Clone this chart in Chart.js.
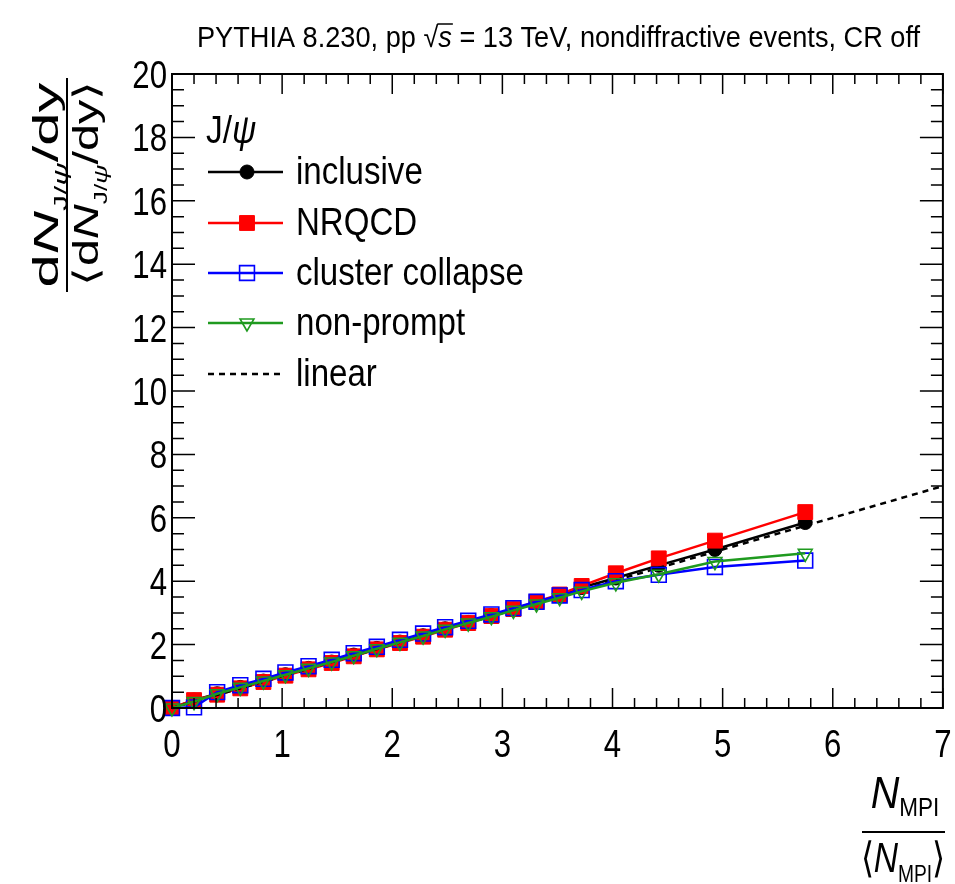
<!DOCTYPE html>
<html>
<head>
<meta charset="utf-8">
<script src="https://cdn.jsdelivr.net/npm/chart.js@4.4.0/dist/chart.umd.min.js"></script>
<style>
  html, body { margin: 0; padding: 0; background: #fff; }
  #wrap { width: 955px; height: 884px; position: relative; }
</style>
</head>
<body>
<div id="wrap"><canvas id="chart"></canvas></div>
<script>
// --- DATA ---
const xValues = [0, 0.2, 0.41, 0.62, 0.83, 1.03, 1.24, 1.45, 1.65, 1.86, 2.07, 2.28, 2.48, 2.69, 2.9, 3.1, 3.31, 3.52, 3.72, 4.03, 4.42, 4.93, 5.75];
const inclusive   = [0, 0.25, 0.45, 0.65, 0.85, 1.05, 1.25, 1.45, 1.67, 1.88, 2.08, 2.28, 2.5, 2.7, 2.92, 3.12, 3.33, 3.55, 3.8, 4.1, 4.5, 5.0, 5.85];
const nrqcd       = [0, 0.25, 0.42, 0.62, 0.82, 1.02, 1.22, 1.42, 1.63, 1.85, 2.05, 2.25, 2.47, 2.68, 2.9, 3.12, 3.35, 3.58, 3.85, 4.25, 4.72, 5.28, 6.18];
const cluster     = [0, 0.02, 0.5, 0.72, 0.92, 1.12, 1.32, 1.52, 1.73, 1.93, 2.15, 2.35, 2.55, 2.75, 2.95, 3.15, 3.35, 3.55, 3.72, 4.0, 4.2, 4.45, 4.65];
const nonPrompt   = [0, 0.2, 0.45, 0.65, 0.85, 1.05, 1.25, 1.45, 1.65, 1.87, 2.07, 2.27, 2.48, 2.68, 2.88, 3.08, 3.28, 3.48, 3.68, 3.95, 4.22, 4.62, 4.88];
const linearX = [0, 7];
const linearY = [0, 7];
const seriesNames = ['inclusive', 'NRQCD', 'cluster collapse', 'non-prompt', 'linear'];

const toPoints = (xs, ys) => xs.map((x, i) => ({ x: x, y: ys[i] }));

// --- TEXT HELPERS ---
// segments: [{t, size, italic, dy}] drawn left to right, squeezed by sx
const segFont = (s) => `${s.italic ? 'italic ' : ''}${s.size}px "Liberation Sans", Arial, sans-serif`;
const measureSegs = (ctx, segs) => segs.reduce((w, s) => { ctx.font = segFont(s); return w + ctx.measureText(s.t).width; }, 0);
const drawSegs = (ctx, segs, x, y, sx, align) => {
    const w = measureSegs(ctx, segs);
    ctx.save();
    ctx.translate(x, y);
    ctx.scale(sx, 1);
    let cx = align === 'center' ? -w / 2 : (align === 'right' ? -w : 0);
    ctx.textAlign = 'left';
    ctx.textBaseline = 'alphabetic';
    const spans = [];
    segs.forEach(s => {
        ctx.font = segFont(s);
        const sw = ctx.measureText(s.t).width;
        ctx.fillText(s.t, cx, s.dy || 0);
        spans.push([cx, cx + sw]);
        cx += sw;
    });
    ctx.restore();
    return spans.map(p => [x + p[0] * sx, x + p[1] * sx]);
};

// --- ROOT-LIKE DECORATIONS ---
const rootDecor = {
    id: 'rootDecor',
    afterDraw(chart) {
        const ctx = chart.ctx;
        const a = chart.chartArea;
        const xs = chart.scales.x, ys = chart.scales.y;
        ctx.save();
        ctx.fillStyle = '#000';
        ctx.strokeStyle = '#000';

        // frame
        ctx.lineWidth = 2;
        ctx.strokeRect(a.left, a.top, a.right - a.left, a.bottom - a.top);

        // inward ticks
        ctx.lineWidth = 1.5;
        ctx.beginPath();
        for (let i = 0; i <= 35; i++) {
            const px = xs.getPixelForValue(i * 0.2);
            const len = i % 5 === 0 ? 20 : 10;
            ctx.moveTo(px, a.bottom); ctx.lineTo(px, a.bottom - len);
            ctx.moveTo(px, a.top); ctx.lineTo(px, a.top + len);
        }
        for (let i = 0; i <= 40; i++) {
            const py = ys.getPixelForValue(i * 0.5);
            const len = i % 4 === 0 ? 23 : 12;
            ctx.moveTo(a.left, py); ctx.lineTo(a.left + len, py);
            ctx.moveTo(a.right, py); ctx.lineTo(a.right - len, py);
        }
        ctx.stroke();

        // tick labels
        xs.ticks.forEach(t => {
            drawSegs(ctx, [{ t: String(t.value), size: 39 }], xs.getPixelForValue(t.value), 757, 0.8, 'center');
        });
        ys.ticks.forEach(t => {
            drawSegs(ctx, [{ t: String(t.value), size: 39 }], 167, ys.getPixelForValue(t.value) + 14, 0.8, 'right');
        });

        // title
        const titleSegs = [
            { t: 'PYTHIA 8.230, pp ', size: 29 },
            { t: '\u221A', size: 29 },
            { t: 's', size: 29, italic: true },
            { t: ' = 13 TeV, nondiffractive events, CR off', size: 29 }
        ];
        const tw = measureSegs(ctx, titleSegs);
        const tsx = 723 / tw;
        const tsp = drawSegs(ctx, titleSegs, 197, 47, tsx, 'left');
        ctx.lineWidth = 1.5;
        ctx.beginPath();
        ctx.moveTo(tsp[1][1] - 1, 24); ctx.lineTo(tsp[2][1] + 1, 24);
        ctx.stroke();

        // y axis title (rotated fraction)
        ctx.save();
        ctx.translate(67, 185);
        ctx.rotate(-Math.PI / 2);
        const numSegs = [
            { t: 'd', size: 35 }, { t: 'N', size: 35, italic: true },
            { t: 'J/', size: 19, dy: 9 }, { t: '\u03C8', size: 19, italic: true, dy: 9 },
            { t: '/dy', size: 35 }
        ];
        const denSegs = [{ t: '\u27E8', size: 35 }].concat(numSegs, [{ t: '\u27E9', size: 35 }]);
        drawSegs(ctx, numSegs, 0, -9, 205 / measureSegs(ctx, numSegs), 'center');
        drawSegs(ctx, denSegs, 2, 31, 205 / measureSegs(ctx, denSegs), 'center');
        ctx.lineWidth = 2;
        ctx.beginPath();
        ctx.moveTo(-107, 0); ctx.lineTo(107, 0);
        ctx.stroke();
        ctx.restore();

        // x axis title (fraction, bottom right)
        const xNum = [{ t: 'N', size: 44, italic: true }, { t: 'MPI', size: 25, dy: 8 }];
        const xDen = [{ t: '\u27E8', size: 42 }, { t: 'N', size: 42, italic: true }, { t: 'MPI', size: 24, dy: 10 }, { t: '\u27E9', size: 42 }];
        drawSegs(ctx, xNum, 905, 808, 0.9, 'center');
        drawSegs(ctx, xDen, 903, 872, 0.8, 'center');
        ctx.lineWidth = 2;
        ctx.beginPath();
        ctx.moveTo(862, 832); ctx.lineTo(945, 832);
        ctx.stroke();

        // legend
        drawSegs(ctx, [{ t: 'J/', size: 38 }, { t: '\u03C8', size: 38, italic: true }], 206, 143, 0.88, 'left');
        const rows = [172, 223, 273, 323, 374];
        const legendOrder = [0, 1, 2, 3, 4];
        legendOrder.forEach((di, r) => {
            const ds = chart.data.datasets[di];
            const y = rows[r];
            ctx.save();
            ctx.strokeStyle = ds.borderColor;
            ctx.lineWidth = ds.borderWidth;
            ctx.setLineDash(ds.borderDash || []);
            ctx.beginPath();
            ctx.moveTo(208, y); ctx.lineTo(283, y);
            ctx.stroke();
            ctx.setLineDash([]);
            if (ds.pointRadius > 0) {
                ctx.fillStyle = ds.pointBackgroundColor;
                ctx.strokeStyle = ds.pointBorderColor;
                ctx.lineWidth = ds.pointBorderWidth;
                Chart.helpers.drawPoint(ctx, {
                    pointStyle: ds.pointStyle, rotation: ds.pointRotation || 0,
                    radius: ds.pointRadius, borderWidth: ds.pointBorderWidth
                }, 247, y);
            }
            ctx.restore();
            ctx.fillStyle = '#000';
            drawSegs(ctx, [{ t: seriesNames[di], size: 38 }], 296, y + 12, 0.87, 'left');
        });

        ctx.restore();
    }
};

const mkSeries = (label, ys, color, style, radius, filled, rotation, order) => ({
    label: label,
    data: toPoints(xValues, ys),
    borderColor: color,
    borderWidth: 2.5,
    pointStyle: style,
    pointRadius: radius,
    pointRotation: rotation,
    pointBackgroundColor: filled ? color : 'rgba(0,0,0,0)',
    pointBorderColor: color,
    pointBorderWidth: filled ? 1 : 1.6,
    tension: 0,
    fill: false,
    clip: false,
    order: order
});

new Chart(document.getElementById('chart'), {
    type: 'line',
    data: {
        datasets: [
            mkSeries(seriesNames[0], inclusive, '#000000', 'circle', 7, true, 0, 4),
            mkSeries(seriesNames[1], nrqcd, '#ff0000', 'rect', 10.5, true, 0, 3),
            mkSeries(seriesNames[2], cluster, '#0000ff', 'rect', 10.5, false, 0, 1),
            mkSeries(seriesNames[3], nonPrompt, '#1f9a1f', 'triangle', 8, false, 180, 0),
            {
                label: seriesNames[4],
                data: toPoints(linearX, linearY),
                borderColor: '#000000',
                borderWidth: 2.5,
                borderDash: [6, 5],
                pointRadius: 0,
                fill: false,
                clip: false,
                order: 2
            }
        ]
    },
    options: {
        responsive: true,
        maintainAspectRatio: false,
        animation: false,
        layout: { padding: { top: 74, right: 10, bottom: 0, left: 0 } },
        scales: {
            x: {
                type: 'linear', min: 0, max: 7,
                ticks: { stepSize: 1, display: false },
                grid: { display: false },
                border: { display: false },
                afterFit: (s) => { s.height = 176; }
            },
            y: {
                type: 'linear', min: 0, max: 20,
                ticks: { stepSize: 2, display: false },
                grid: { display: false },
                border: { display: false },
                afterFit: (s) => { s.width = 172; }
            }
        },
        plugins: { legend: { display: false }, tooltip: { enabled: false } }
    },
    plugins: [rootDecor]
});
</script>
</body>
</html>
